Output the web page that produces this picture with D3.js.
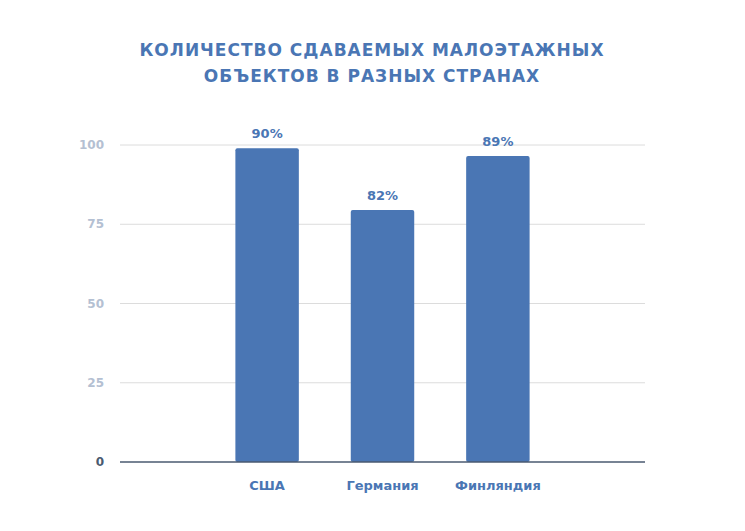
<!DOCTYPE html>
<html><head><meta charset="utf-8">
<script src="https://cdn.jsdelivr.net/npm/d3@7"></script>
<style>body{margin:0;background:#fff}</style>
</head><body><div id="chart"></div>
<script>
// данные
var slots = ["a", "США", "Германия", "Финляндия", "b"];
var countries = ["США", "Германия", "Финляндия"];
var values = [99, 79.5, 96.5];
var labels = ["90%", "82%", "89%"];
var ticks = [0, 25, 50, 75, 100];

var width = 745, height = 531;
var margin = {top: 145, right: 100, bottom: 69, left: 120};

var svg = d3.select("#chart").append("svg")
    .attr("width", width).attr("height", height)
    .style("font-family", "'DejaVu Sans', sans-serif");

var x = d3.scaleBand().domain(slots)
    .range([margin.left, width - margin.right]).paddingInner(0.45).paddingOuter(0);
var y = d3.scaleLinear().domain([0, 100]).range([height - margin.bottom, margin.top]);

var col = "#4a76b4";

// заголовок
svg.append("text").attr("x", 372).attr("y", 56).attr("text-anchor", "middle")
  .attr("fill", col).attr("font-weight", "bold").attr("font-size", 17).attr("letter-spacing", 1)
  .text("КОЛИЧЕСТВО СДАВАЕМЫХ МАЛОЭТАЖНЫХ");
svg.append("text").attr("x", 372).attr("y", 82).attr("text-anchor", "middle")
  .attr("fill", col).attr("font-weight", "bold").attr("font-size", 17).attr("letter-spacing", 1)
  .text("ОБЪЕКТОВ В РАЗНЫХ СТРАНАХ");

// сетка
svg.selectAll(".grid").data(ticks.slice(1)).enter().append("line")
  .attr("x1", margin.left).attr("x2", width - margin.right)
  .attr("y1", d => y(d)).attr("y2", d => y(d))
  .attr("stroke", "#dcdcdc").attr("stroke-width", 1);

svg.selectAll(".tick").data(ticks).enter().append("text")
  .attr("x", 104).attr("y", d => y(d) + 4).attr("text-anchor", "end")
  .attr("fill", d => d === 0 ? "#4a5a70" : "#b4c0d2").attr("font-weight", "bold").attr("font-size", 12)
  .text(d => d);

// столбцы
svg.selectAll(".bar").data(countries).enter().append("rect")
  .attr("x", d => x(d)).attr("width", x.bandwidth())
  .attr("y", (d, i) => y(values[i])).attr("height", (d, i) => y(0) - y(values[i]))
  .attr("rx", 2).attr("fill", col);

svg.selectAll(".lbl").data(countries).enter().append("text")
  .attr("x", d => x(d) + x.bandwidth() / 2).attr("y", (d, i) => y(values[i]) - 10)
  .attr("text-anchor", "middle").attr("fill", col).attr("font-weight", "bold").attr("font-size", 13)
  .text((d, i) => labels[i]);

svg.selectAll(".cat").data(countries).enter().append("text")
  .attr("x", d => x(d) + x.bandwidth() / 2).attr("y", y(0) + 28)
  .attr("text-anchor", "middle").attr("fill", col).attr("font-weight", "bold").attr("font-size", 13)
  .text(d => d);

// ось
svg.append("line").attr("x1", margin.left).attr("x2", width - margin.right)
  .attr("y1", y(0)).attr("y2", y(0)).attr("stroke", "#4a5a70").attr("stroke-width", 1.5);
</script></body></html>
